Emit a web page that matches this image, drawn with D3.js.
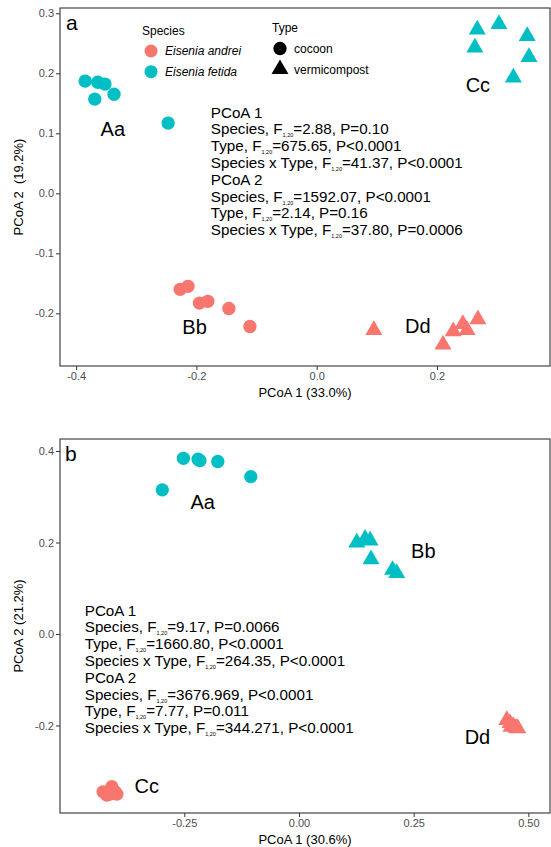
<!DOCTYPE html>
<html>
<head>
<meta charset="utf-8">
<script src="https://cdn.jsdelivr.net/npm/d3@7"></script>
<style>
  body { margin: 0; background: #fff; }
  text { font-family: "Liberation Sans", Arial, sans-serif; }
</style>
</head>
<body>
<script>
let width = 551;
let height = 847;

const speciesNames = ["Eisenia andrei", "Eisenia fetida"];
const typeNames = ["cocoon", "vermicompost"];
const speciesColors = ["#F8766D", "#00BFC4"];
const groupNames = ["Aa", "Bb", "Cc", "Dd"];

// panel a: 6 samples per group, in the order Aa, Bb, Cc, Dd
const aPc1 = [-0.385, -0.364, -0.352, -0.369, -0.337, -0.247,
              -0.227, -0.214, -0.195, -0.181, -0.146, -0.111,
               0.267,  0.303,  0.350,  0.263,  0.353,  0.327,
               0.095,  0.210,  0.227,  0.243,  0.250,  0.268];
const aPc2 = [ 0.187,  0.185,  0.182,  0.157,  0.165,  0.117,
              -0.160, -0.155, -0.183, -0.180, -0.192, -0.222,
               0.273,  0.282,  0.262,  0.243,  0.227,  0.193,
              -0.228, -0.252, -0.230, -0.218, -0.228, -0.210];
const aGroupSpecies = [1, 0, 1, 0];
const aGroupType = [0, 0, 1, 1];
const aLabelX = [-0.339, -0.203, 0.268, 0.168];
const aLabelY = [0.108, -0.222, 0.180, -0.220];

// panel b
const bPc1 = [-0.252, -0.220, -0.216, -0.177, -0.105, -0.298,
               0.126,  0.144,  0.155,  0.157,  0.204,  0.213,
              -0.427, -0.408, -0.401, -0.419, -0.397, -0.412,
               0.453,  0.460,  0.467,  0.473,  0.462,  0.477];
const bPc2 = [ 0.384,  0.382,  0.379,  0.377,  0.344,  0.315,
               0.200,  0.208,  0.204,  0.163,  0.140,  0.133,
              -0.345, -0.334, -0.345, -0.352, -0.350, -0.350,
              -0.188, -0.195, -0.201, -0.205, -0.203, -0.206];
const bGroupSpecies = [1, 1, 0, 0];
const bGroupType = [0, 1, 0, 1];
const bLabelX = [-0.210, 0.271, -0.332, 0.389];
const bLabelY = [0.290, 0.181, -0.331, -0.224];

// statistics text: [before subscript, after subscript]; null = heading line
const aStats = [["PCoA 1", null],
                ["Species, F", "=2.88, P=0.10"],
                ["Type, F", "=675.65, P<0.0001"],
                ["Species x Type, F", "=41.37, P<0.0001"],
                ["PCoA 2", null],
                ["Species, F", "=1592.07, P<0.0001"],
                ["Type, F", "=2.14, P=0.16"],
                ["Species x Type, F", "=37.80, P=0.0006"]];
const bStats = [["PCoA 1", null],
                ["Species, F", "=9.17, P=0.0066"],
                ["Type, F", "=1660.80, P<0.0001"],
                ["Species x Type, F", "=264.35, P<0.0001"],
                ["PCoA 2", null],
                ["Species, F", "=3676.969, P<0.0001"],
                ["Type, F", "=7.77, P=0.011"],
                ["Species x Type, F", "=344.271, P<0.0001"]];

let svg = d3.select("body").append("svg")
            .attr("width", width)
            .attr("height", height);

function buildPoints(pc1, pc2, groupSpecies, groupType) {
  return pc1.map(function(v, i) {
    let g = Math.floor(i / 6);
    return {x: v, y: pc2[i], species: groupSpecies[g], type: groupType[g]};
  });
}

function drawPanel(cfg) {
  let x = d3.scaleLinear().domain(cfg.xDomain).range([60, 550]);
  let y = d3.scaleLinear().domain(cfg.yDomain).range([cfg.bottom, cfg.top]);
  let g = svg.append("g");

  let xAxis = g.append("g")
               .attr("transform", "translate(0," + cfg.bottom + ")")
               .call(d3.axisBottom(x).tickValues(cfg.xTicks).tickSize(4).tickSizeOuter(0)
                       .tickPadding(2).tickFormat(function(d) { return d.toFixed(cfg.xDigits); }));
  let yAxis = g.append("g")
               .attr("transform", "translate(60,0)")
               .call(d3.axisLeft(y).tickValues(cfg.yTicks).tickSize(4).tickSizeOuter(0)
                       .tickPadding(2).tickFormat(function(d) { return d.toFixed(1); }));
  [xAxis, yAxis].forEach(function(a) {
    a.select(".domain").remove();
    a.selectAll(".tick line").attr("stroke", "#333");
    a.selectAll(".tick text").attr("fill", "#4D4D4D").style("font-size", "11px")
     .style("font-family", "'Liberation Sans', Arial, sans-serif");
  });

  g.append("rect")
   .attr("x", 60).attr("y", cfg.top)
   .attr("width", 490).attr("height", cfg.bottom - cfg.top)
   .attr("fill", "none").attr("stroke", "#333").attr("stroke-width", 1.1);

  g.append("text")
   .attr("x", 305).attr("y", cfg.bottom + 31)
   .attr("text-anchor", "middle").style("font-size", "13px")
   .text(cfg.xTitle);
  g.append("text")
   .attr("transform", "translate(23," + ((cfg.top + cfg.bottom) / 2) + ") rotate(-90)")
   .attr("text-anchor", "middle").style("font-size", "13px")
   .style("white-space", "pre")
   .text(cfg.yTitle);

  // panel letter
  g.append("text")
   .attr("x", cfg.letterX).attr("y", cfg.top + 22)
   .style("font-size", "21px")
   .text(cfg.letter);

  let points = buildPoints(cfg.pc1, cfg.pc2, cfg.groupSpecies, cfg.groupType);
  g.append("g").selectAll("path")
   .data(points)
   .enter().append("path")
   .attr("transform", function(d) { return "translate(" + x(d.x) + "," + y(d.y) + ")"; })
   .attr("d", function(d) {
     return d.type === 0 ? d3.symbol(d3.symbolCircle, 140)() : d3.symbol(d3.symbolTriangle, 125)();
   })
   .attr("fill", function(d) { return speciesColors[d.species]; });

  g.append("g").selectAll("text")
   .data(groupNames)
   .enter().append("text")
   .attr("x", function(d, i) { return x(cfg.labelX[i]); })
   .attr("y", function(d, i) { return y(cfg.labelY[i]); })
   .attr("dy", "0.36em")
   .attr("text-anchor", "middle")
   .style("font-size", "20px")
   .text(function(d) { return d; });

  let stats = g.append("g");
  cfg.stats.forEach(function(s, i) {
    let t = stats.append("text")
                 .attr("x", x(cfg.statX))
                 .attr("y", y(cfg.statY) + i * 16.8)
                 .style("font-size", "15.2px");
    t.append("tspan").text(s[0]);
    if (s[1] !== null) {
      t.append("tspan").attr("dy", 3).style("font-size", "5.5px").text("1,20");
      t.append("tspan").attr("dy", -3).text(s[1]);
    }
  });
}

drawPanel({
  top: 8, bottom: 366,
  xDomain: [-0.4268, 0.3879], yDomain: [-0.2878, 0.3088],
  xTicks: [-0.4, -0.2, 0, 0.2], yTicks: [-0.2, -0.1, 0, 0.1, 0.2, 0.3], xDigits: 1,
  xTitle: "PCoA 1 (33.0%)", yTitle: "PCoA 2  (19.2%)",
  letter: "a", letterX: 66,
  pc1: aPc1, pc2: aPc2, groupSpecies: aGroupSpecies, groupType: aGroupType,
  labelX: aLabelX, labelY: aLabelY,
  stats: aStats, statX: -0.176, statY: 0.126
});

drawPanel({
  top: 439, bottom: 813,
  xDomain: [-0.5210, 0.5472], yDomain: [-0.3913, 0.4262],
  xTicks: [-0.25, 0, 0.25, 0.5], yTicks: [-0.2, 0, 0.2, 0.4], xDigits: 2,
  xTitle: "PCoA 1 (30.6%)", yTitle: "PCoA 2 (21.2%)",
  letter: "b", letterX: 65,
  pc1: bPc1, pc2: bPc2, groupSpecies: bGroupSpecies, groupType: bGroupType,
  labelX: bLabelX, labelY: bLabelY,
  stats: bStats, statX: -0.467, statY: 0.040
});

// legend (panel a)
let legend = svg.append("g").style("font-size", "12px");
legend.append("text").attr("x", 142).attr("y", 35).text("Species");
legend.selectAll(".sp")
      .data(speciesNames)
      .enter().append("g").attr("class", "sp")
      .attr("transform", function(d, i) { return "translate(151," + (51 + i * 20.7) + ")"; })
      .each(function(d, i) {
        let e = d3.select(this);
        e.append("circle").attr("r", 6.5).attr("fill", speciesColors[i]);
        e.append("text").attr("x", 14).attr("dy", "0.36em")
         .style("font-style", "italic").text(d);
      });
legend.append("text").attr("x", 272).attr("y", 32).text("Type");
legend.selectAll(".tp")
      .data(typeNames)
      .enter().append("g").attr("class", "tp")
      .attr("transform", function(d, i) { return "translate(280," + (48.5 + i * 20.7) + ")"; })
      .each(function(d, i) {
        let e = d3.select(this);
        e.append("path")
         .attr("d", i === 0 ? d3.symbol(d3.symbolCircle, 140)() : d3.symbol(d3.symbolTriangle, 125)())
         .attr("fill", "#000");
        e.append("text").attr("x", 14).attr("dy", "0.36em").text(d);
      });
</script>
</body>
</html>
